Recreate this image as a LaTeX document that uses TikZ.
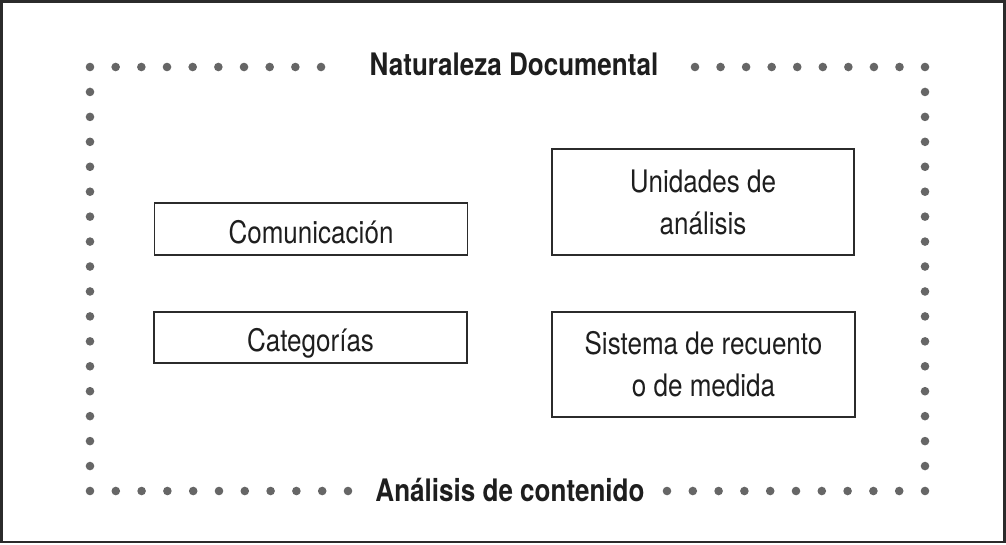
\documentclass[tikz,border=0pt]{standalone}
\usepackage{fontspec}
\newfontfamily\condfont{TeX Gyre Heros}[FakeStretch=0.84]
\definecolor{ink}{HTML}{1E1E1E}
\definecolor{dotgray}{HTML}{666666}
\definecolor{linegray}{HTML}{2B2B2B}
\tikzset{
  box/.style={draw=linegray, line width=1.8pt, inner sep=0pt, align=center,
    text=ink, font=\condfont\fontsize{31}{42}\selectfont},
  onebox/.style={box, text height=30pt, text depth=2pt},
  heading/.style={text=ink, inner sep=0pt, anchor=base,
    font=\condfont\bfseries\fontsize{31}{36}\selectfont},
  framebox/.style={draw=linegray, line width=2.2pt},
  dotmark/.style={fill=dotgray}
}
\begin{document}
\begin{tikzpicture}[x=1pt,y=-1pt]
\useasboundingbox (0,0) rectangle (1006,544);
\draw[framebox] (1.5,1.5) rectangle (1004.5,542);
% dotted frame
\foreach \i in {0,...,17} { \fill[dotmark] (90,{67+\i*24.94}) circle (4.3); \fill[dotmark] (925,{67+\i*24.94}) circle (4.3); }
\foreach \i in {1,...,9} { \fill[dotmark] ({90+\i*25.67},67) circle (4.3); \fill[dotmark] ({695+(\i-1)*25.56},67) circle (4.3); }
\foreach \i in {1,...,10} { \fill[dotmark] ({90+\i*25.8},491) circle (4.3); \fill[dotmark] ({667+(\i-1)*25.8},491) circle (4.3); }
% headings
\node[heading] (nat) at (514,75) {Naturaleza Documental};
\node[heading] (ana) at (510,501) {Análisis de contenido};
% boxes
\node[onebox, minimum width=313pt, minimum height=52pt] (com) at (311,229) {Comunicación};
\node[onebox, minimum width=313pt, minimum height=51pt] (cat) at (310.5,337.5) {Categorías};
\node[box, minimum width=302pt, minimum height=106pt] (uni) at (703,202) {Unidades de\\análisis};
\node[box, minimum width=303pt, minimum height=105pt] (sis) at (703.5,364.5) {Sistema de recuento\\o de medida};
\end{tikzpicture}
\end{document}
